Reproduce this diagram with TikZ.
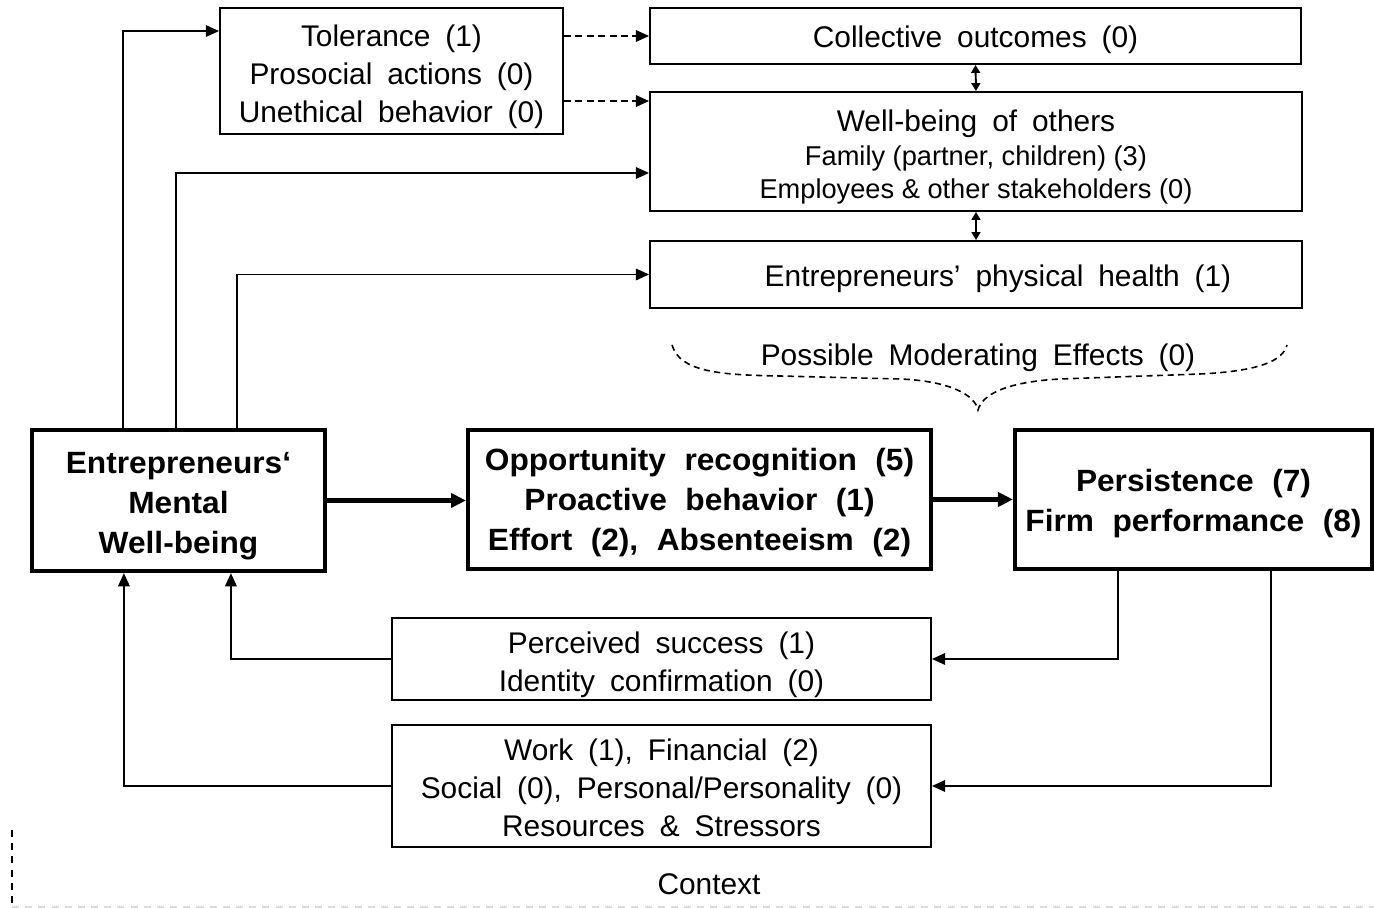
\documentclass[tikz,border=0pt]{standalone}
\usepackage{fontspec}
\setmainfont{Liberation Sans}[WordSpace=1.8,BoldFeatures={WordSpace=2.1,FakeStretch=1.03}]
\newfontfamily\plainsans{Liberation Sans}
\usetikzlibrary{arrows.meta,calc}
\newcommand{\subtxt}{\plainsans\fontsize{15.5}{19}\selectfont}
\newcommand{\lift}[1]{\rule{0pt}{#1}}

\begin{document}
\begin{tikzpicture}[x=0.02cm,y=-0.02cm,>={Triangle[length=7.5pt,width=6.5pt]},
  box/.style={draw,rectangle,line width=1.1pt,inner sep=0pt,align=center,
    font=\fontsize{17}{21.5}\selectfont},
  mainbox/.style={box,line width=2.4pt,font=\fontsize{17.5}{22.7}\selectfont\bfseries},
  link/.style={->,line width=1.1pt},
  twoway/.style={{Triangle[length=4.5pt,width=5pt]}-{Triangle[length=4.5pt,width=5pt]},line width=1.1pt},
  thicklink/.style={-{Triangle[length=8.5pt,width=8pt]},line width=2.4pt},
  softlink/.style={->,line width=1.1pt,dash pattern=on 4pt off 2.5pt}]
\useasboundingbox (0,0) rectangle (1374,908);

% outcome side (top)
\node[box,minimum width=6.86cm,minimum height=2.52cm](tol) at (391.5,71)
  {\lift{19.2pt}Tolerance (1)\\Prosocial actions (0)\\Unethical behavior (0)};
\node[box,minimum width=13.02cm,minimum height=1.12cm](coll) at (975.5,36)
  {\lift{17pt}Collective outcomes (0)};
\node[box,minimum width=13.04cm,minimum height=2.38cm](wbo) at (976,151.5)
  {\lift{18.6pt}Well-being of others\\[-2.3pt]\subtxt Family (partner, children) (3)\\[-2.8pt]\subtxt Employees \& other stakeholders (0)};
\node[box,minimum width=13.04cm,minimum height=1.34cm](phys) at (976,274.5)
  {\lift{17pt}\hspace*{0.88cm}Entrepreneurs’ physical health (1)};

% main chain
\node[mainbox,minimum width=5.86cm,minimum height=2.82cm](mwb) at (178.5,500.5)
  {\lift{18.5pt}Entrepreneurs‘\\Mental\\Well-being};
\node[mainbox,minimum width=9.26cm,minimum height=2.78cm](opp) at (699.5,499.5)
  {\lift{16.2pt}Opportunity recognition (5)\\Proactive behavior (1)\\Effort (2), Absenteeism (2)};
\node[mainbox,minimum width=7.14cm,minimum height=2.78cm](pers) at (1193.5,499.5)
  {\lift{17.3pt}Persistence (7)\\Firm performance (8)};

% feedback side (bottom)
\node[box,minimum width=10.78cm,minimum height=1.64cm](succ) at (661.5,659)
  {\lift{19.2pt}Perceived success (1)\\Identity confirmation (0)};
\node[box,minimum width=10.78cm,minimum height=2.44cm](res) at (661.5,786)
  {\lift{14.1pt}Work (1), Financial (2)\\Social (0), Personal/Personality (0)\\Resources \& Stressors};

\node[font=\fontsize{17}{21}\selectfont](ctx) at (709,884) {Context};
\node[font=\fontsize{17}{21}\selectfont](mod) at (978,358) {Possible Moderating Effects (0)};

% moderating brace
\draw[line width=0.9pt,dash pattern=on 3.5pt off 2.5pt]
  (672,345) .. controls (680,372) and (720,375) .. (780,376) -- (900,379)
  .. controls (950,381) and (975,395) .. (978,410)
  .. controls (982,395) and (1005,382) .. (1060,379) -- (1200,374)
  .. controls (1262,371) and (1283,360) .. (1287,345);

% context frame (cut off)
\draw[line width=0.9pt,dash pattern=on 4pt off 3.5pt] (12,830) -- (12,908);
\draw[line width=0.6pt,gray!30,dash pattern=on 4pt off 3.5pt] (12,907) -- (1374,907);

% arrows
\coordinate (wbin) at ($(wbo.north west)+(0,10)$);
\draw[link] (mwb.north west) ++(93,0) |- ($(tol.north west)+(0,24)$);
\draw[link] (mwb.north west) ++(146,0) |- ($(wbo.west)+(0,21.5)$);
\draw[link] (mwb.north west) ++(207,0) |- (phys.west);
\draw[softlink] (tol.east |- coll.west) -- (coll.west);
\draw[softlink] (tol.east |- wbin) -- (wbin);
\draw[twoway] (coll.south) -- (wbo.north);
\draw[twoway] (wbo.south) -- (phys.north);
\draw[thicklink] (mwb.east) -- (mwb.east -| opp.west);
\draw[thicklink] (opp.east) -- (pers.west);
\draw[link] (pers.south west) ++(105,0) |- (succ.east);
\draw[link] (pers.south west) ++(258,0) |- (res.east);
\draw[link] (succ.west) -| ($(mwb.south west)+(201,0)$);
\draw[link] (res.west) -| ($(mwb.south west)+(94,0)$);
\end{tikzpicture}
\end{document}
